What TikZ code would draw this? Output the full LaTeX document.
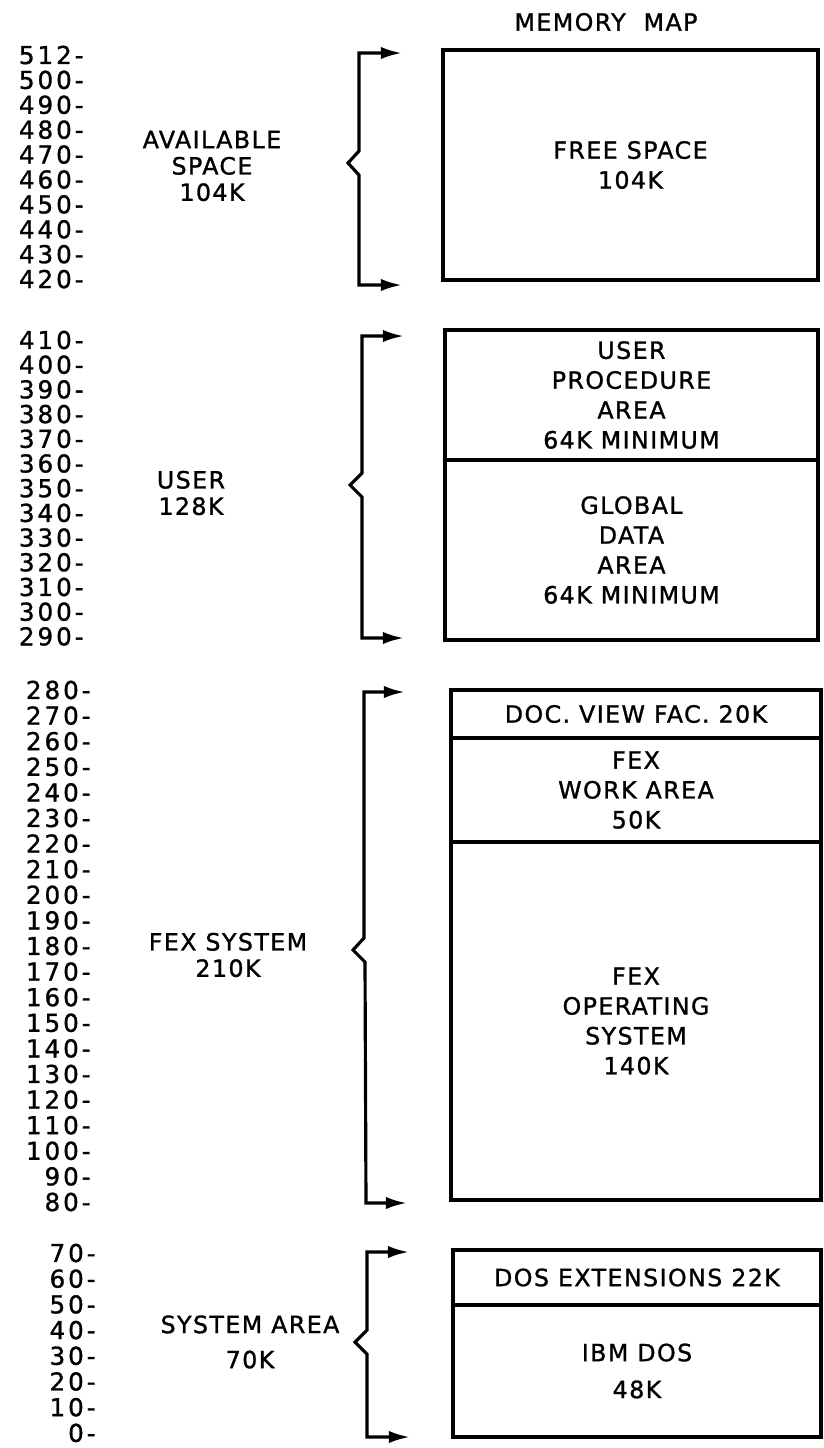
\documentclass[tikz,border=0pt]{standalone}
\usepackage{fontspec}
\setmainfont{DejaVu Sans}[LetterSpace=6,FakeBold=1.2]
\usetikzlibrary{arrows.meta}

\begin{document}
\begin{tikzpicture}[
        x=0.02cm, y=-0.02cm,
        region/.style={draw, line width=1.8pt, rectangle, align=center, inner sep=0pt, font=\fontsize{13.5}{17}\selectfont},
        addr/.style={anchor=east, inner sep=0pt, font=\fontsize{14}{16}\selectfont\addfontfeatures{LetterSpace=12}},
        group/.style={align=center, inner sep=0pt, font=\fontsize{13.5}{15}\selectfont},
        bracket/.style={line width=1.8pt, {Latex[length=12pt,width=7pt]}-{Latex[length=12pt,width=7pt]}}
    ]
    \useasboundingbox (0,0) rectangle (824,1448);

    \node[group] (title) at (606,22) {MEMORY\ \ MAP};

    % address scale
    \foreach \v [count=\i from 0] in {512,500,490,480,470,460,450,440,430,420}
        \node[addr] (m\v) at (84,{55+\i*24.9}) {\v-};
    \foreach \v [count=\i from 0] in {410,400,390,380,370,360,350,340,330,320,310,300,290}
        \node[addr] (m\v) at (84,{340+\i*24.7}) {\v-};
    \foreach \v [count=\i from 0] in {280,270,260,250,240,230,220,210,200,190,180,170,160,150,140,130,120,110,100,90,80}
        \node[addr] (m\v) at (91,{690+\i*25.6}) {\v-};
    \foreach \v [count=\i from 0] in {70,60,50,40,30,20,10,0}
        \node[addr] (m\v) at (96,{1253+\i*25.7}) {\v-};

    % groups
    \node[group] (avail) at (212,166) {AVAILABLE\\SPACE\\104K};
    \node[group] (user) at (191,493) {USER\\128K};
    \node[group] (fexsys) at (228,955) {FEX SYSTEM\\210K};
    \node[group] (sysarea) at (250,1342) {SYSTEM AREA\\[5pt]70K};

    % memory map
    \node[region, minimum width=7.5cm, minimum height=4.6cm] (free) at (630.5,165) {FREE SPACE\\104K};

    \node[region, minimum width=7.46cm, minimum height=2.6cm] (proc) at (631.5,395) {USER\\PROCEDURE\\AREA\\64K MINIMUM};
    \node[region, minimum width=7.46cm, minimum height=3.6cm] (global) at (631.5,550) {GLOBAL\\DATA\\AREA\\64K MINIMUM};

    \node[region, minimum width=7.4cm, minimum height=0.96cm] (docview) at (636,714) {DOC. VIEW FAC. 20K};
    \node[region, minimum width=7.4cm, minimum height=2.08cm] (work) at (636,790) {FEX\\WORK AREA\\50K};
    \node[region, minimum width=7.4cm, minimum height=7.16cm] (fexos) at (636,1021) {FEX\\OPERATING\\SYSTEM\\140K};

    \node[region, minimum width=7.36cm, minimum height=1.1cm] (dosext) at (637,1277.5) {DOS EXTENSIONS 22K};
    \node[region, minimum width=7.36cm, minimum height=2.64cm] (ibmdos) at (637,1371) {IBM DOS\\[4pt]48K};

    % brackets
    \coordinate (a1) at (402,53);
    \coordinate (b1) at (402,285);
    \coordinate (a2) at (404,336);
    \coordinate (b2) at (404,638);
    \coordinate (a3) at (405,692);
    \coordinate (b3) at (407,1203);
    \coordinate (a4) at (409,1252);
    \coordinate (b4) at (410,1437);

    \draw[bracket] (a1) -- (359,53) -- (359,151) -- (348,163) -- (359,175) -- (359,285) -- (b1);
    \draw[bracket] (a2) -- (362,336) -- (362,473) -- (350,485) -- (362,497) -- (362,638) -- (b2);
    \draw[bracket] (a3) -- (364,692) -- (364,938) -- (353,950) -- (365,962) -- (366,1203) -- (b3);
    \draw[bracket] (a4) -- (367,1252) -- (367,1330) -- (355,1342) -- (367,1354) -- (367,1437) -- (b4);

\end{tikzpicture}
\end{document}
